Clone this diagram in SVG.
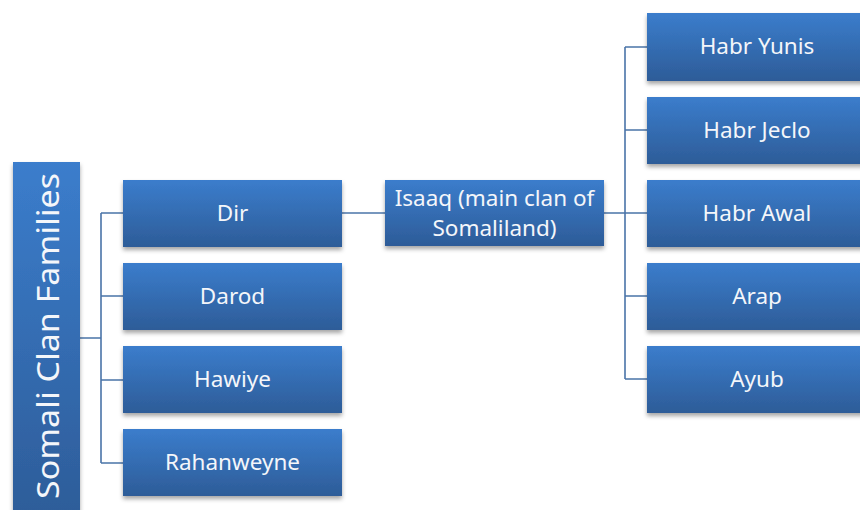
<svg xmlns="http://www.w3.org/2000/svg" width="860" height="510" viewBox="0 0 860 510">
<defs>
<linearGradient id="g" x1="0" y1="0" x2="0" y2="1">
<stop offset="0" stop-color="#3b7dcc"/>
<stop offset="1" stop-color="#2d5c98"/>
</linearGradient>
<filter id="sh" x="-10%" y="-10%" width="120%" height="140%">
<feDropShadow dx="0" dy="3" stdDeviation="2" flood-color="#000" flood-opacity="0.35"/>
</filter>
<style>
.box{fill:url(#g);filter:url(#sh)}
.t{font-family:"Noto Sans","Open Sans",sans-serif;font-size:22.5px;fill:#f4f6fa;text-anchor:middle;dominant-baseline:central}
.c{fill:none;stroke:#4a74a8;stroke-width:1.6}
</style>
</defs>
<rect width="860" height="510" fill="#fff"/>
<g id="connectors">
<path class="c" d="M80 338H101M101 213V463M101 213H123M101 296H123M101 380H123M101 463H123"/>
<path class="c" d="M342 213H385"/>
<path class="c" d="M604 213H625M625 47V379M625 47H647M625 130H647M625 213H647M625 296H647M625 379H647"/>
</g>
<g id="root">
<rect class="box" x="13" y="162" width="67" height="360"/>
<text class="t" transform="translate(47 336) rotate(-90)" style="font-size:31px" textLength="326" lengthAdjust="spacingAndGlyphs">Somali Clan Families</text>
</g>
<g id="dir"><rect class="box" x="123" y="180" width="219" height="67"/><text class="t" x="232.5" y="212.5">Dir</text></g>
<g id="darod"><rect class="box" x="123" y="263" width="219" height="67"/><text class="t" x="232.5" y="295.5">Darod</text></g>
<g id="hawiye"><rect class="box" x="123" y="346" width="219" height="67"/><text class="t" x="232.5" y="378.5">Hawiye</text></g>
<g id="rahanweyne"><rect class="box" x="123" y="429" width="219" height="67"/><text class="t" x="232.5" y="461.5">Rahanweyne</text></g>
<g id="isaaq"><rect class="box" x="385" y="180" width="219" height="66"/>
<text class="t" x="494.5" y="197">Isaaq (main clan of</text>
<text class="t" x="494.5" y="227">Somaliland)</text></g>
<g id="habr-yunis"><rect class="box" x="647" y="13" width="220" height="68"/><text class="t" x="757" y="45">Habr Yunis</text></g>
<g id="habr-jeclo"><rect class="box" x="647" y="97" width="220" height="67"/><text class="t" x="757" y="129">Habr Jeclo</text></g>
<g id="habr-awal"><rect class="box" x="647" y="180" width="220" height="67"/><text class="t" x="757" y="212">Habr Awal</text></g>
<g id="arap"><rect class="box" x="647" y="263" width="220" height="67"/><text class="t" x="757" y="295">Arap</text></g>
<g id="ayub"><rect class="box" x="647" y="346" width="220" height="67"/><text class="t" x="757" y="378">Ayub</text></g>
</svg>
